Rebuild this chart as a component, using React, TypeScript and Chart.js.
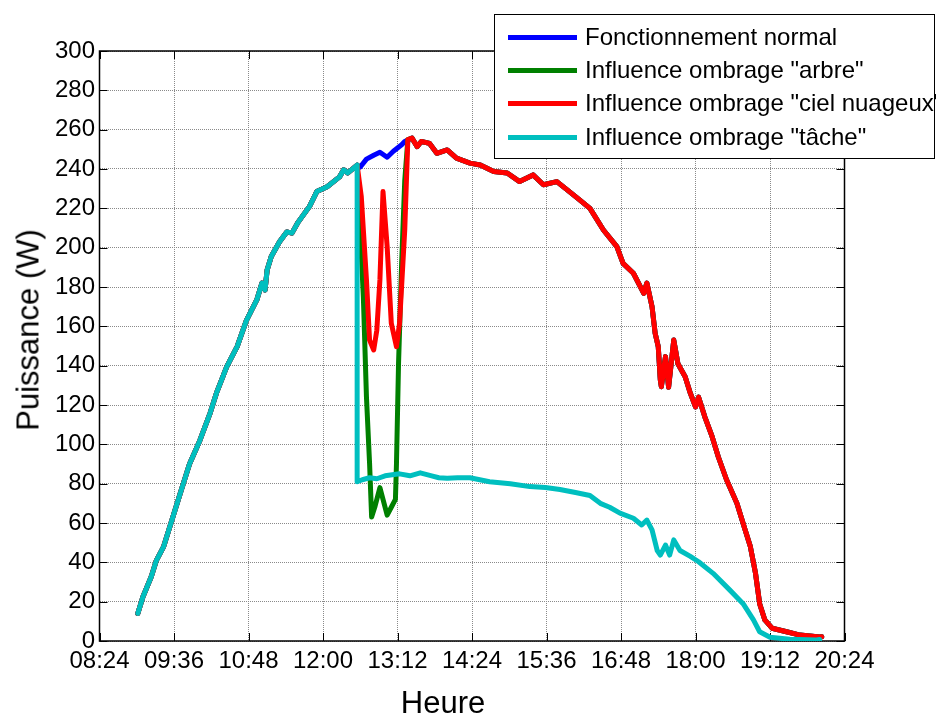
import React, { useEffect, useRef } from "react";
import { Chart, registerables } from "chart.js";

Chart.register(...registerables);

// ---- Data (time "HH:MM", power in W) ----
// Shared morning ramp (identical for every series before the shading events)
const morningTimes = ["09:01","09:06","09:14","09:19","09:26","09:34","09:42","09:51","10:01","10:11","10:17","10:27","10:37","10:46","10:56","11:01","11:04","11:06","11:10","11:18","11:25","11:30","11:36","11:47","11:54","12:04","12:16","12:20","12:24","12:33"];
const morningValues = [14,22.5,32.7,41,48,61.5,75,90,102,116,126,139.5,149.7,163,173.4,182,178.5,188.7,195.5,203,208,207.4,213,221,228.5,231,236,239.6,238,242];

// Normal operation between 12:33 and 13:26
const normalTimes = ["12:36","12:42","12:49","12:55","13:02","13:08","13:16","13:19"];
const normalValues = [241,245,247,248.5,246,249,252.3,254];

// Tree shading ("arbre")
const arbreTimes = ["12:39","12:42","12:45","12:47","12:50","12:55","12:58","13:02","13:06","13:10","13:11","13:13","13:16","13:19","13:22"];
const arbreValues = [175,124,90.5,63,68,78,72,64,68,72,90,141,192,234,255];

// Cloudy sky ("ciel nuageux")
const nuageTimes = ["12:37","12:42","12:45","12:49","12:52","12:55","12:58","13:02","13:06","13:11","13:14","13:19","13:22"];
const nuageValues = [226,183.6,153,148,158,183.6,228.5,200.5,161.6,149.7,161.6,209,255];

// Shared afternoon (normal / arbre / ciel nuageux)
const afternoonTimes = ["13:26","13:31","13:35","13:43","13:50","14:00","14:09","14:22","14:32","14:45","14:58","15:10","15:23","15:33","15:46","15:56","16:08","16:18","16:31","16:44","16:50","17:00","17:10","17:13","17:18","17:21","17:24","17:26","17:27","17:31","17:34","17:39","17:43","17:50","17:55","18:00","18:03","18:09","18:16","18:22","18:30","18:40","18:48","18:53","18:58","19:02","19:07","19:14","19:28","19:41","20:00","20:02"];
const afternoonValues = [255.7,251.4,254,253,248,249.7,245.5,243,242,238.7,238,233.6,237,232,233.6,229.4,224.3,220,209,200.5,192,187,176.8,182,170,156.5,149.7,132.8,129.3,144.6,129,153,141,134.4,126,119,124,114,104,93.7,82,70,56.5,48,34.4,19,10.7,6.5,4.7,3,2,2.2];

// Stain shading ("tâche")
const tacheTimes = ["12:33","12:38","12:45","12:52","13:00","13:07","13:14","13:24","13:34","13:45","13:52","14:00","14:10","14:22","14:41","15:01","15:20","15:35","15:49","16:04","16:18","16:28","16:37","16:47","17:00","17:08","17:13","17:18","17:23","17:26","17:31","17:35","17:39","17:45","17:55","18:03","18:17","18:33","18:46","18:56","19:02","19:12","19:31","19:57","20:00"];
const tacheValues = [81,82,83,82.5,84,84.5,85,84,85.5,84,83,82.7,83,83,81,80,78.5,78,77,75.5,74,70,68,65,62.4,59,61.5,56.5,46,43.7,48.8,43.7,51.4,46,43,40.3,34.4,26,19,10.7,4.7,1.9,0.9,0.5,0.8];

const seriesLabels = [
  "Fonctionnement normal",
  'Influence ombrage "arbre"',
  'Influence ombrage "ciel nuageux"',
  'Influence ombrage "tâche"',
];
const seriesColors = ["#0000ff", "#008000", "#ff0000", "#00bfbf"];

const xTickFirst = "08:24";
const xTickLast = "20:24";
const xTickStepMinutes = 72;
const yMin = 0;
const yMax = 300;
const yStep = 20;

const toMin = (s: string) => {
  const [h, m] = s.split(":").map(Number);
  return h * 60 + m;
};
const fmt = (v: number) => {
  const h = Math.floor(v / 60);
  const m = Math.round(v - h * 60);
  return String(h).padStart(2, "0") + ":" + String(m).padStart(2, "0");
};
const pts = (times: string[], values: number[]) =>
  times.map((t, i) => ({ x: toMin(t), y: values[i] }));

const FONT = "'Liberation Sans', Arial, Helvetica, sans-serif";

const framePlugin = {
  id: "frame",
  beforeDatasetsDraw(chart: any) {
    const { ctx, chartArea, scales } = chart;
    const { left, right, top, bottom } = chartArea;
    const x = scales.x;
    const y = scales.y;
    const L = 8;
    ctx.save();
    ctx.strokeStyle = "#000";
    ctx.lineWidth = 1;
    ctx.beginPath();
    x.ticks.forEach((t: any) => {
      const px = Math.round(x.getPixelForValue(t.value)) + 0.5;
      ctx.moveTo(px, bottom);
      ctx.lineTo(px, bottom - L);
      ctx.moveTo(px, top);
      ctx.lineTo(px, top + L);
    });
    y.ticks.forEach((t: any) => {
      const py = Math.round(y.getPixelForValue(t.value)) + 0.5;
      ctx.moveTo(left, py);
      ctx.lineTo(left + L, py);
      ctx.moveTo(right, py);
      ctx.lineTo(right - L, py);
    });
    ctx.stroke();
    ctx.lineWidth = 1.5;
    ctx.strokeRect(left, top, right - left, bottom - top);
    ctx.restore();
  },
};

export default function App() {
  const canvasRef = useRef<HTMLCanvasElement | null>(null);

  useEffect(() => {
    if (!canvasRef.current) return;
    const morning = pts(morningTimes, morningValues);
    const afternoon = pts(afternoonTimes, afternoonValues);
    const normal = [...morning, ...pts(normalTimes, normalValues), ...afternoon];
    const arbre = [...morning, ...pts(arbreTimes, arbreValues), ...afternoon];
    const nuage = [...morning, ...pts(nuageTimes, nuageValues), ...afternoon];
    const tache = [...morning, ...pts(tacheTimes, tacheValues)];

    const mk = (data: any[], i: number) => ({
      label: seriesLabels[i],
      data,
      borderColor: seriesColors[i],
      backgroundColor: seriesColors[i],
      borderWidth: 5,
      pointRadius: 0,
      tension: 0,
      fill: false,
      borderJoinStyle: "round" as const,
      borderCapStyle: "round" as const,
    });

    // index 0 is drawn on top in Chart.js -> put "tâche" first
    const chart = new Chart(canvasRef.current, {
      type: "line",
      data: {
        datasets: [mk(tache, 3), mk(nuage, 2), mk(arbre, 1), mk(normal, 0)],
      },
      options: {
        animation: false,
        responsive: false,
        devicePixelRatio: 1,
        parsing: false as any,
        normalized: true,
        layout: { padding: { left: 0, top: 51, right: 91.5, bottom: 0 } },
        plugins: {
          legend: { display: false },
          tooltip: { enabled: false },
          title: { display: false },
        },
        scales: {
          x: {
            type: "linear",
            min: toMin(xTickFirst),
            max: toMin(xTickLast),
            afterFit: (s: any) => {
              s.height = 77;
            },
            ticks: {
              stepSize: xTickStepMinutes,
              autoSkip: false,
              maxRotation: 0,
              padding: 6,
              color: "#000",
              font: { family: FONT, size: 24 },
              callback: (v: any) => fmt(Number(v)),
            },
            grid: { color: "#8a8a8a", lineWidth: 1, drawTicks: false },
            border: { display: false, dash: [1, 1] },
          },
          y: {
            type: "linear",
            min: yMin,
            max: yMax,
            afterFit: (s: any) => {
              s.width = 99.5;
            },
            ticks: {
              stepSize: yStep,
              autoSkip: false,
              padding: 4.5,
              color: "#000",
              font: { family: FONT, size: 24 },
            },
            grid: { color: "#8a8a8a", lineWidth: 1, drawTicks: false },
            border: { display: false, dash: [1, 1] },
          },
        },
      },
      plugins: [framePlugin],
    });
    return () => chart.destroy();
  }, []);

  const legendOrder = [0, 1, 2, 3];
  const rowY = [37, 70, 103, 137];

  return (
    <div
      style={{
        position: "fixed",
        left: 0,
        top: 0,
        width: 936,
        height: 718,
        overflow: "hidden",
        background: "#fff",
        fontFamily: FONT,
      }}
    >
      <canvas ref={canvasRef} width={936} height={718} style={{ display: "block", width: 936, height: 718 }} />
      <div
        style={{
          position: "absolute",
          left: 28,
          top: 330,
          transform: "translate(-50%, -50%) rotate(-90deg)",
          fontSize: 31,
          lineHeight: "31px",
          whiteSpace: "nowrap",
          color: "#000",
        }}
      >
        Puissance (W)
      </div>
      <div
        style={{
          position: "absolute",
          left: 443,
          top: 688,
          transform: "translateX(-50%)",
          fontSize: 31,
          lineHeight: "30px",
          whiteSpace: "nowrap",
          color: "#000",
        }}
      >
        Heure
      </div>
      <div
        style={{
          position: "absolute",
          left: 494,
          top: 14,
          width: 441,
          height: 145,
          border: "1.5px solid #000",
          boxSizing: "border-box",
          background: "#fff",
        }}
      />
      {legendOrder.map((i, r) => (
        <React.Fragment key={i}>
          <div
            style={{
              position: "absolute",
              left: 508,
              top: rowY[r] - 2.5,
              width: 69,
              height: 5,
              background: seriesColors[i],
            }}
          />
          <div
            style={{
              position: "absolute",
              left: 585,
              top: rowY[r] - 14,
              fontSize: 24,
              lineHeight: "28px",
              whiteSpace: "nowrap",
              color: "#000",
            }}
          >
            {seriesLabels[i]}
          </div>
        </React.Fragment>
      ))}
    </div>
  );
}
